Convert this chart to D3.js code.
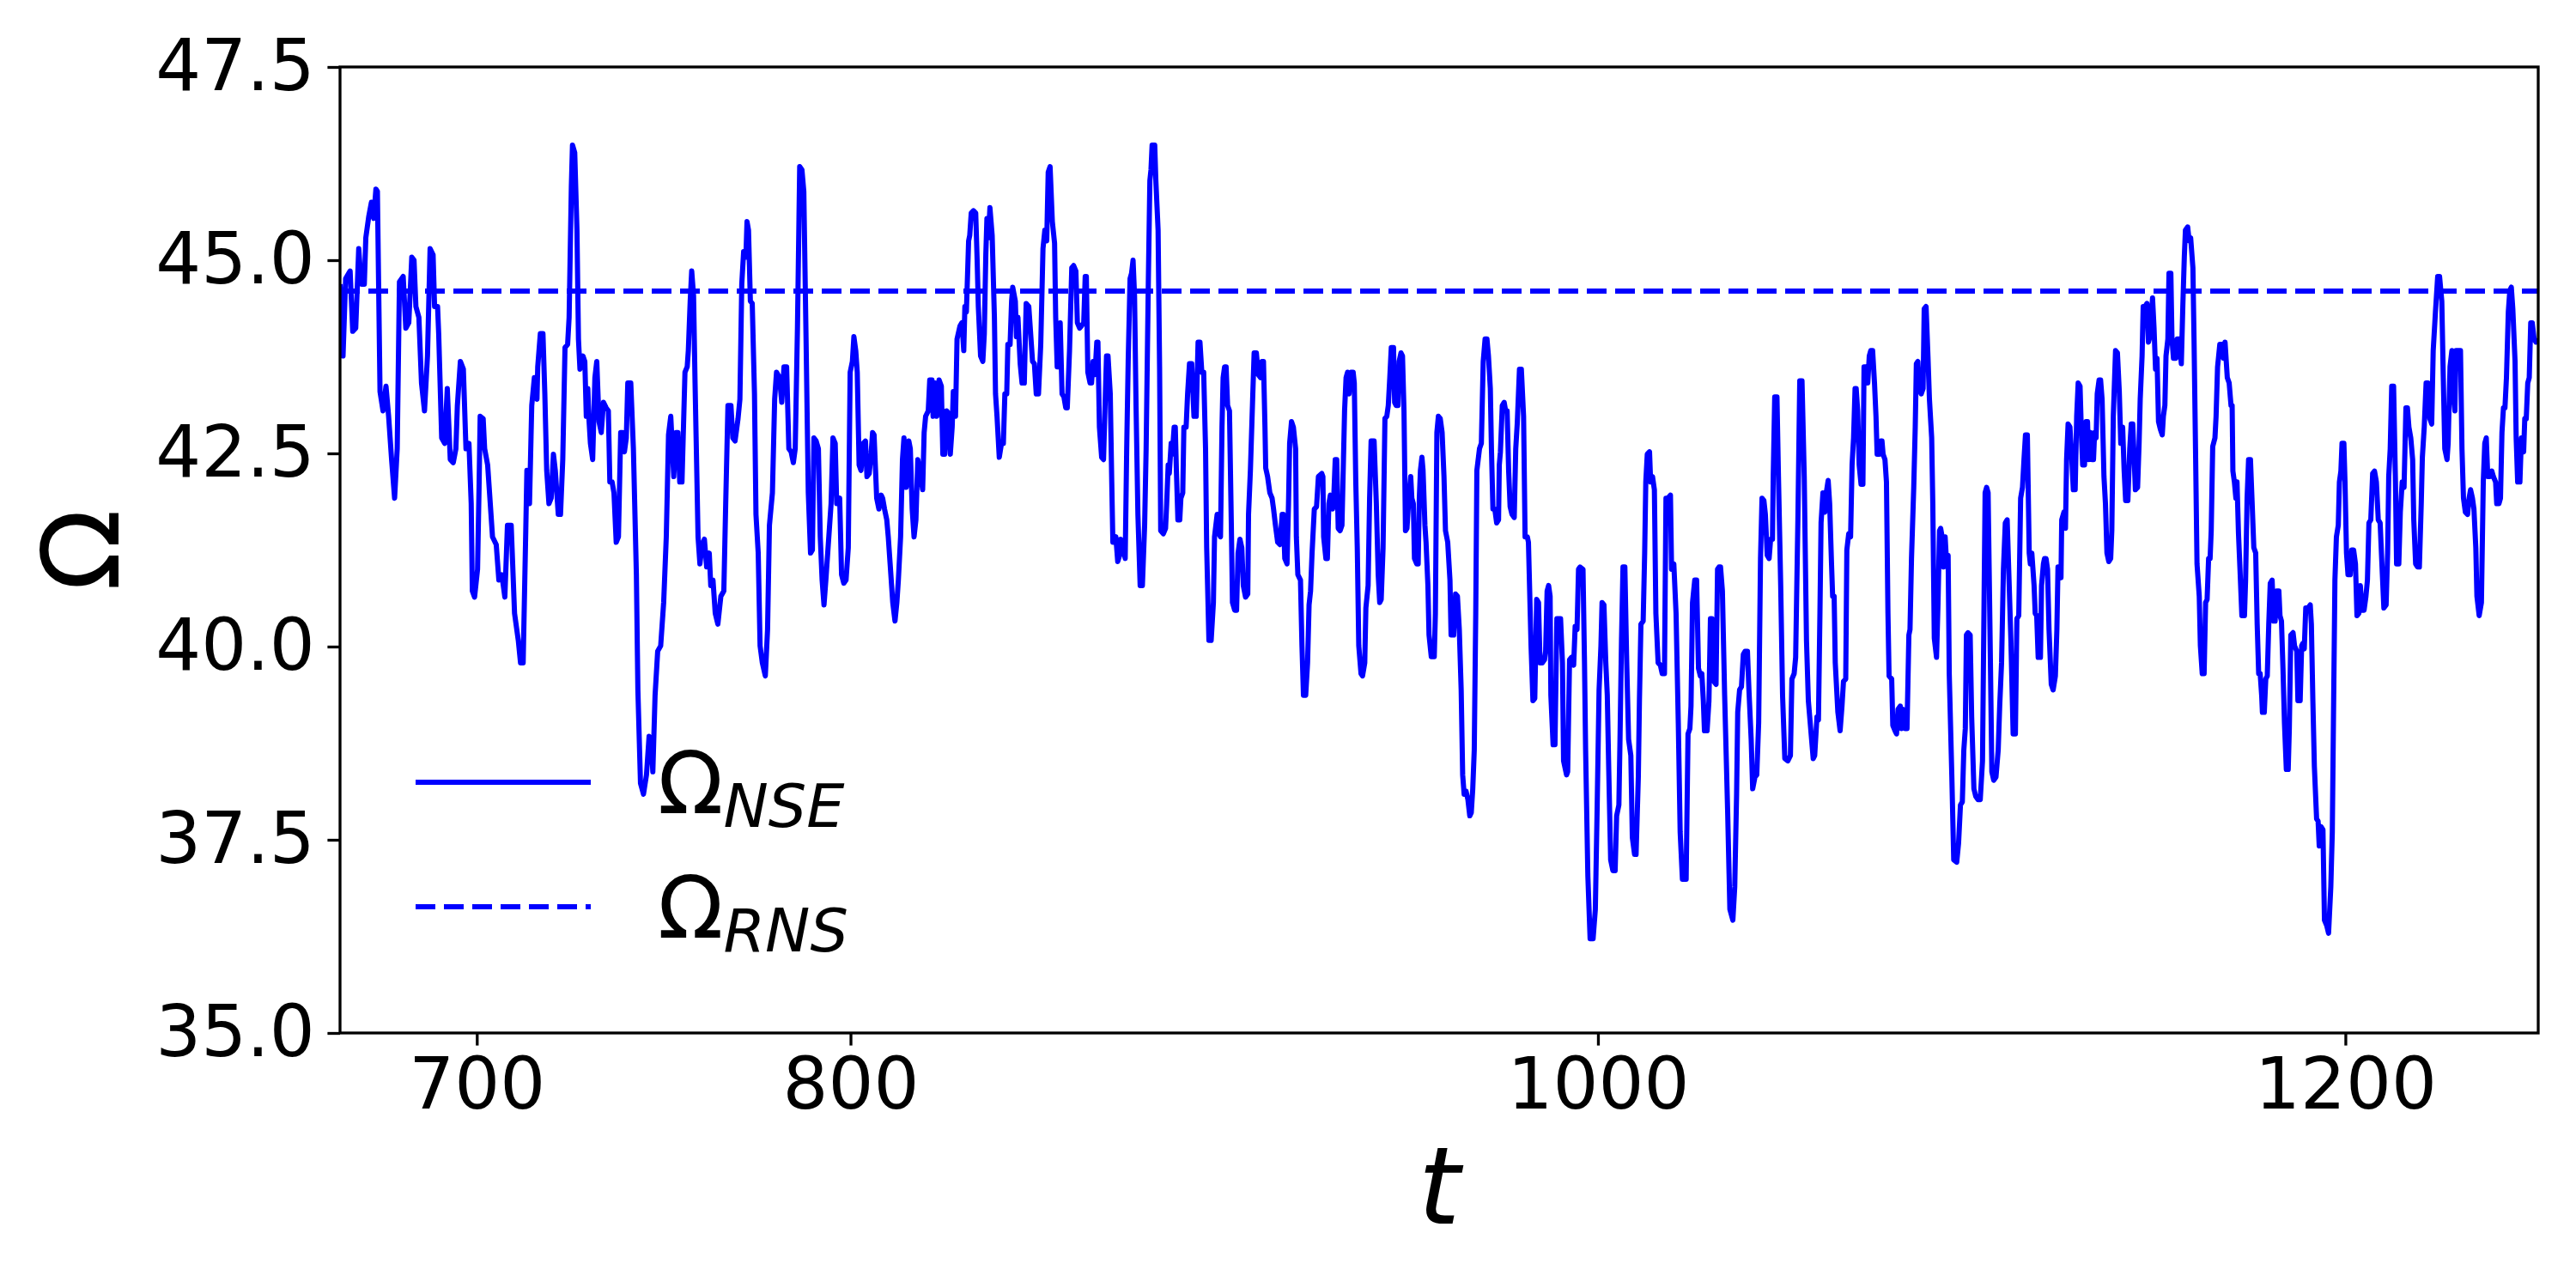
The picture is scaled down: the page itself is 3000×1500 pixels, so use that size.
<!DOCTYPE html>
<html>
<head>
<meta charset="utf-8">
<script src="https://cdn.jsdelivr.net/npm/d3@7"></script>
<style>
  html, body { margin: 0; padding: 0; background: #fff; }
  svg text { font-family: "DejaVu Sans", sans-serif; fill: #000; }
</style>
</head>
<body>
<svg id="chart" width="3000" height="1500"></svg>
<script>
// time axis of the NSE run
var tNSE = [
  663.4, 664.2, 664.9, 666.1, 666.8, 667.6, 668.4, 669.1, 669.9, 670.3,
  671.1, 671.8, 672.4, 673.0, 673.4, 674.1, 674.9, 675.7, 676.4, 677.2,
  678.0, 678.7, 679.3, 680.3, 681.0, 681.8, 682.6, 683.2, 683.7, 684.5,
  685.2, 686.0, 686.8, 687.5, 688.3, 688.7, 689.5, 689.8, 690.6, 691.4,
  692.1, 692.9, 693.7, 694.4, 694.8, 695.6, 696.4, 697.1, 697.9, 698.5,
  698.8, 699.4, 700.2, 700.6, 700.9, 701.7, 702.1, 702.9, 703.6, 704.2,
  705.2, 705.9, 706.7, 707.5, 708.2, 709.2, 710.1, 711.1, 711.7, 712.4,
  713.1, 713.4, 714.1, 714.7, 715.4, 716.1, 716.3, 717.0, 717.7, 718.2,
  718.7, 719.3, 719.9, 720.5, 721.0, 721.8, 722.4, 723.0, 723.6, 724.3,
  724.7, 725.3, 725.6, 726.2, 726.8, 727.2, 727.6, 728.4,
  728.9, 729.3, 729.7, 730.0, 730.4, 731.0, 731.6, 732.1, 732.7, 733.3,
  733.9, 734.6, 735.2, 735.6, 736.2, 736.7, 737.3, 737.9, 738.5, 739.0,
  739.5, 740.0, 740.4, 741.2, 741.9, 742.7, 743.1, 743.8, 744.6, 745.4,
  746.1, 746.7, 747.1, 747.7, 748.4, 749.2, 750.0, 750.7, 751.3, 751.9,
  752.7, 753.3, 753.8, 754.3, 754.9, 755.7, 756.3, 756.6, 757.1, 757.5,
  758.0, 758.4, 759.2, 759.7, 760.3, 760.9, 761.5, 762.2, 762.6, 763.2,
  763.8, 764.5, 765.3, 766.1, 766.6, 767.2, 768.0, 768.5, 769.1, 769.9,
  770.4, 770.9, 771.4, 772.0, 772.3, 772.7, 773.2, 773.7, 774.3, 774.7,
  775.3, 775.8, 776.4, 777.2, 777.8, 778.3, 779.1, 779.7, 780.2, 781.0,
  781.6, 782.2, 782.9, 783.5, 784.1, 784.7, 785.2, 785.8, 786.4, 787.0,
  787.5, 788.1, 788.7, 789.3, 789.8, 790.2, 790.8, 791.4, 791.9, 792.4,
  792.9, 793.4,
  794.8, 795.3, 795.9, 796.3, 797.1, 797.6, 798.2, 798.8, 799.4, 799.9,
  800.5, 800.9, 801.4, 801.8, 802.3, 802.8, 803.4, 804.0, 804.4, 805.0,
  805.5, 805.9, 806.3, 806.7, 807.0, 807.6, 808.2, 808.6, 809.1, 809.7,
  810.1, 810.6, 811.3, 811.9, 812.4, 812.8, 813.4, 813.9, 814.3, 814.9,
  815.2, 815.6, 816.0, 816.5, 817.0, 817.5, 818.0, 818.8, 819.3, 819.7,
  820.1, 820.8, 821.2, 821.8, 822.1, 822.6, 823.1, 823.7, 824.3, 824.7,
  825.2, 825.7, 826.2, 826.7, 827.2, 827.5, 828.1, 828.5, 829.3, 829.8,
  830.3, 830.6, 831.0, 831.6, 831.9, 832.3, 832.9, 833.5, 833.9, 834.2,
  834.8, 835.4, 835.8, 836.2, 836.5, 836.9, 837.3, 837.9, 838.5, 838.8,
  839.2, 839.8, 840.4, 840.9, 841.3, 841.8, 842.1, 842.7, 843.1, 843.4,
  844.1, 844.4, 844.8, 845.4, 845.9, 846.5, 847.0, 847.7, 848.0, 848.7,
  849.2, 849.7, 850.3, 850.9, 851.5, 852.0, 852.5, 852.9, 853.4, 854.0,
  854.6, 854.9, 855.3, 855.7, 856.1, 856.6, 857.1, 857.6, 858.0, 858.6,
  859.2, 859.7,
  860.3, 860.7, 861.3, 861.8, 862.4, 862.8, 863.1, 863.5, 864.1, 864.5,
  864.9, 865.4, 865.9, 866.2, 866.6, 867.2, 867.7, 868.2, 868.5, 868.9,
  869.5, 869.9, 870.2, 871.0, 871.5, 872.0, 872.3, 872.9, 873.5, 873.9,
  874.3, 874.8, 875.2, 875.6, 876.0, 876.4, 876.9, 877.5, 878.1, 878.7,
  879.1, 879.7, 880.1, 880.4, 880.7, 881.4, 881.7, 882.3, 882.7, 883.0,
  883.7, 884.3, 884.6, 885.0, 885.3, 885.8, 886.1, 886.6, 886.9, 887.2,
  887.6, 888.1, 888.4, 888.9, 889.2, 889.8, 890.2, 890.7, 891.3, 891.9,
  892.5, 893.0, 893.5, 894.0, 894.5, 895.0, 895.3, 895.9, 896.5, 897.1,
  897.4, 898.1, 898.6, 899.0, 899.4, 899.7, 900.1, 900.5, 900.9, 901.4,
  901.9, 902.2, 902.8, 903.3, 903.7, 904.2, 904.7, 905.1, 905.7, 906.3,
  906.5, 907.0, 907.6, 908.0, 908.6, 909.1, 909.7, 910.1, 910.5, 910.9,
  911.1, 911.6, 912.2, 912.8, 913.2, 913.7, 914.3, 914.9, 915.5, 915.8,
  916.2, 916.8, 917.2, 917.5, 918.0, 918.5, 919.1, 919.3, 919.7, 920.4,
  920.8, 921.2, 921.8, 922.3, 922.7, 923.1, 923.5, 924.1, 924.7, 925.2,
  926.1, 926.4, 926.6, 927.2, 927.6, 928.0, 928.4, 929.0, 929.3, 929.7,
  930.1, 930.5, 931.0, 931.5, 931.8, 932.2, 932.6, 933.0, 933.4, 933.9,
  934.5, 934.8, 935.2, 935.6, 936.0, 936.6, 937.0, 937.6, 937.9, 938.5,
  938.9, 939.3, 940.1, 940.7, 941.2, 941.6, 942.0, 942.5, 943.0, 943.5,
  943.9, 944.3, 944.7, 945.3, 945.6, 946.0, 946.5, 946.8, 947.3, 947.7,
  948.1, 948.5, 948.9, 949.4, 949.9, 950.2, 950.6, 950.9, 951.5, 951.9,
  952.2, 952.5, 952.9, 953.2, 953.7, 954.0, 954.5, 954.8, 955.4, 956.2,
  956.5, 956.9, 957.3, 957.8, 958.3, 958.8, 959.2, 959.8, 960.4, 960.7,
  961.4, 961.9, 962.4, 962.9, 963.4, 963.8, 964.2, 964.7, 965.2, 965.7,
  966.1, 966.5, 966.9, 967.3, 967.6, 968.3, 968.8, 969.3, 969.8, 970.3,
  970.7, 971.2, 971.5, 971.9, 972.4, 972.9, 973.4, 973.6, 973.9, 974.4,
  974.9, 975.3, 975.7, 976.1, 976.5, 977.0, 977.6, 978.0, 978.4, 979.0,
  979.5, 980.1, 980.5, 981.1, 981.4, 982.1, 982.6, 983.1, 983.6, 984.1,
  984.5, 985.1, 985.7, 986.0, 986.4, 986.8, 987.2, 987.4, 988.0, 988.5,
  989.0, 989.5, 990.0, 990.5, 990.8,
  991.6, 991.9, 992.4, 992.9, 993.5, 993.9, 994.4, 994.8, 995.2, 996.0,
  996.4, 996.7, 997.3, 997.9, 998.7, 999.3, 999.8, 1000.3, 1000.8, 1001.1,
  1001.6, 1002.1, 1002.5, 1002.9, 1003.4, 1004.0, 1004.6, 1005.0, 1005.6, 1005.9,
  1006.3, 1006.7, 1007.2, 1007.7, 1008.2, 1008.8, 1009.2, 1009.8, 1010.2, 1010.8,
  1011.1, 1011.5, 1012.1, 1012.5, 1012.8, 1013.2, 1013.8, 1014.1, 1014.6, 1015.1,
  1015.5, 1016.1, 1016.7, 1017.2, 1017.8, 1018.2, 1018.7, 1019.4, 1019.7, 1020.3,
  1020.9, 1021.5, 1022.0, 1022.6, 1023.6, 1024.1, 1024.6, 1024.9, 1025.3, 1025.9,
  1026.4, 1026.9, 1027.4, 1027.8, 1028.2, 1028.5, 1029.2, 1029.7, 1030.1, 1030.5,
  1031.0, 1031.6, 1032.0, 1032.4, 1032.8, 1033.3, 1033.9, 1034.7, 1035.3, 1036.1,
  1036.6, 1037.1, 1037.4, 1037.9, 1038.4, 1038.9, 1039.4, 1040.0, 1040.4, 1041.0,
  1041.4, 1042.0, 1042.5, 1043.0, 1043.5, 1043.9, 1044.4, 1044.8, 1045.3, 1045.8,
  1046.2, 1046.7, 1046.9, 1047.3, 1047.9, 1048.3, 1048.9, 1049.4, 1050.0, 1050.8,
  1051.5, 1051.9, 1052.5, 1052.9, 1053.5, 1054.0, 1054.6, 1055.2, 1055.8, 1056.3,
  1057.6, 1058.0, 1058.6, 1059.0, 1059.4, 1059.7, 1060.2, 1060.7, 1061.1, 1061.6,
  1062.0, 1062.5, 1062.8, 1063.2, 1063.5, 1064.2, 1064.8, 1065.3, 1065.7, 1066.3,
  1066.6, 1067.1, 1067.6, 1068.0, 1068.4, 1068.8, 1069.1, 1069.5, 1069.9, 1070.4,
  1070.9, 1071.2, 1071.7, 1072.2, 1072.6, 1073.0, 1073.5, 1074.0, 1074.4, 1074.7,
  1075.3, 1075.7, 1076.0, 1076.3, 1076.8, 1077.2, 1077.6, 1077.9, 1078.6, 1078.9,
  1079.5, 1079.9, 1080.3, 1080.9, 1081.2, 1081.6, 1082.2, 1082.7, 1083.2, 1083.5,
  1083.9, 1084.5, 1084.9, 1085.2, 1085.6, 1086.0, 1086.5, 1087.0, 1087.3, 1087.8,
  1088.3, 1088.7, 1089.3, 1089.6, 1090.0, 1090.6, 1091.0, 1091.4, 1091.7, 1092.1,
  1092.5, 1092.9, 1093.3, 1093.7, 1094.0, 1094.7, 1095.2, 1096.0, 1096.5, 1097.0,
  1097.5, 1097.9, 1098.3, 1098.6, 1099.0, 1099.6, 1100.0, 1100.6, 1101.1, 1101.7,
  1102.3, 1102.9, 1103.2, 1103.6, 1104.0, 1104.4, 1104.9, 1105.4, 1105.9, 1106.5,
  1107.1, 1107.5, 1108.0, 1108.5, 1109.0, 1109.5, 1110.0, 1110.5, 1111.1, 1111.7,
  1112.1, 1112.6, 1113.1, 1113.6, 1114.0, 1114.4, 1114.9, 1115.4, 1115.7, 1116.1,
  1116.7, 1117.0, 1117.4, 1117.8, 1118.4, 1118.7, 1119.2, 1119.5, 1119.9, 1120.3,
  1120.7, 1121.3, 1121.8,
  1122.4, 1122.8, 1123.1, 1123.5, 1123.9, 1124.1, 1124.7, 1125.1, 1125.4, 1125.8,
  1126.3, 1126.8, 1127.2, 1127.7, 1128.1, 1128.5, 1129.0, 1129.4, 1129.7, 1130.2,
  1130.6, 1131.0, 1131.3, 1131.8, 1132.2, 1132.6, 1132.9, 1133.3, 1133.6, 1134.1,
  1134.5, 1134.9, 1135.4, 1135.8, 1136.2, 1136.7, 1137.2, 1137.5, 1137.9, 1138.5,
  1139.0, 1139.5, 1139.9, 1140.4, 1140.8, 1141.2, 1141.8, 1142.3, 1142.7, 1143.1,
  1143.5, 1143.8, 1144.4, 1144.8, 1145.1, 1145.6, 1145.9, 1146.4, 1146.9, 1147.3,
  1147.7, 1148.1, 1148.4, 1148.8, 1149.2, 1149.6, 1150.0, 1150.5, 1151.0, 1151.3,
  1151.7, 1152.0, 1152.5, 1152.8, 1153.3, 1153.6, 1154.0, 1154.6, 1155.0, 1155.5,
  1156.1, 1156.5, 1156.9, 1157.2, 1157.8, 1158.2, 1158.6, 1159.2, 1159.5, 1159.9,
  1160.3, 1160.9, 1161.2, 1161.7, 1162.2, 1162.6, 1163.0, 1163.4, 1163.8, 1164.1,
  1164.5, 1165.1, 1165.4, 1165.8, 1166.4, 1167.0, 1167.4, 1167.8, 1168.4, 1168.9,
  1169.4, 1169.7, 1169.9, 1170.3, 1170.7, 1171.0, 1171.4, 1171.8, 1172.3, 1173.0,
  1173.3, 1173.7, 1174.1, 1174.6, 1175.0, 1175.5, 1176.0, 1176.4, 1176.8, 1177.2,
  1177.6, 1177.8, 1178.3, 1178.7, 1179.1, 1179.5, 1179.9, 1180.4, 1180.8, 1181.2,
  1181.6, 1182.2, 1182.5, 1182.9, 1183.3, 1183.7, 1184.2, 1184.7, 1185.0, 1185.4,
  1186.0, 1186.4, 1187.0, 1187.3,
  1187.9, 1188.3, 1188.6, 1189.0, 1189.4, 1190.0, 1190.6, 1190.9, 1191.3, 1191.7,
  1192.3, 1192.7, 1193.0, 1193.5, 1194.0, 1194.4, 1195.0, 1195.5, 1196.1, 1196.5,
  1196.8, 1197.2, 1197.6, 1198.1, 1198.4, 1198.8, 1199.1, 1199.6, 1199.9, 1200.3,
  1200.7, 1201.3, 1201.7, 1202.2, 1202.7, 1203.1, 1203.6, 1204.0, 1204.5, 1205.0,
  1205.5, 1205.9, 1206.3, 1206.8, 1207.3, 1207.8, 1208.3, 1208.8, 1209.3, 1209.9,
  1210.3, 1210.9, 1211.3, 1211.6, 1212.0, 1212.4, 1212.9, 1213.4, 1213.7, 1214.3,
  1214.7, 1215.2, 1215.7, 1216.2, 1216.6, 1217.0, 1217.5, 1218.0, 1218.3, 1218.8,
  1219.3, 1219.8, 1220.3, 1220.6, 1221.1, 1221.6, 1222.1, 1222.6, 1223.1, 1223.5,
  1224.1, 1224.7, 1225.2, 1225.8, 1226.2, 1226.6, 1227.2, 1227.5, 1228.0, 1228.5,
  1228.9, 1229.3, 1229.6, 1230.3, 1230.8, 1231.2, 1231.6, 1232.1, 1232.7, 1233.1,
  1233.5, 1234.0, 1234.4, 1234.9, 1235.2, 1235.8, 1236.4, 1236.9, 1237.3, 1237.7,
  1238.1, 1238.7, 1239.2, 1239.6, 1240.2, 1240.5, 1241.1, 1241.5, 1241.9, 1242.3,
  1242.7, 1243.1, 1243.6, 1244.0, 1244.4, 1244.8, 1245.4, 1245.7, 1246.1, 1246.7,
  1247.1, 1247.7, 1248.0, 1248.4, 1248.8, 1249.2, 1249.6, 1250.0, 1250.5, 1251.0,
  1251.6
];

// Omega from the NSE run, one value per time above
var omegaNSE = [
  44.69, 43.76, 44.76, 44.86, 44.08, 44.12, 45.15, 44.69, 44.69, 45.29,
  45.57, 45.75, 45.54, 45.92, 45.89, 43.30, 43.05, 43.37, 42.98, 42.42,
  41.92, 42.56, 44.72, 44.79, 44.12, 44.19, 45.04, 45.00, 44.40, 44.26,
  43.41, 43.05, 43.76, 45.15, 45.07, 44.40, 44.40, 44.05, 42.70, 42.63,
  43.34, 42.42, 42.38, 42.56, 43.12, 43.69, 43.59, 42.56, 42.63, 41.85,
  40.72, 40.64, 41.00, 42.06, 42.98, 42.95, 42.56, 42.35, 41.85, 41.42,
  41.32, 40.86, 40.93, 40.64, 41.57, 41.57, 40.43, 40.08, 39.79, 39.79,
  41.50, 42.28, 41.85, 43.12, 43.48, 43.20, 43.62, 44.05, 44.05, 43.27,
  42.28, 41.85, 41.92, 42.49, 42.28, 41.71, 41.71, 42.42, 43.87, 43.91,
  44.26, 45.96, 46.49, 46.39, 45.39, 43.98, 43.59, 43.76,
  43.69, 42.98, 43.34, 42.95, 42.63, 42.42, 43.48, 43.69, 42.91, 42.77,
  43.16, 43.09, 43.05, 42.13, 42.13, 41.99, 41.35, 41.42, 42.77, 42.77,
  42.52, 42.70, 43.41, 43.41, 42.56, 40.93, 39.44, 38.23, 38.09, 38.34,
  38.84, 38.73, 38.38, 39.37, 39.94, 40.01, 40.57, 41.42, 42.74, 42.98,
  42.20, 42.77, 42.77, 42.13, 42.13, 43.55, 43.62, 43.83, 44.47, 44.86,
  44.54, 43.41, 41.42, 41.07, 41.32, 41.39, 41.03, 41.21, 40.79, 40.86,
  40.43, 40.29, 40.65, 40.72, 41.85, 43.12, 43.12, 42.70, 42.66, 42.95,
  43.20, 44.69, 45.11, 45.04, 45.50, 45.39, 44.47, 44.44, 43.27, 41.71,
  41.21, 40.01, 39.79, 39.62, 40.22, 41.57, 41.99, 43.20, 43.55, 43.48,
  43.16, 43.62, 43.62, 42.56, 42.52, 42.38, 42.56, 44.12, 46.21, 46.17,
  45.89, 43.98, 41.99, 41.21, 41.25, 42.70, 42.66, 42.56, 41.42, 40.86,
  40.54, 40.86,
  41.85, 42.70, 42.63, 41.85, 41.92, 40.93, 40.82, 40.86, 41.28, 43.55,
  43.69, 44.01, 43.83, 43.55, 42.35, 42.28, 42.63, 42.66, 42.20, 42.24,
  42.49, 42.77, 42.74, 42.28, 41.92, 41.78, 41.96, 41.92, 41.78, 41.64,
  41.42, 41.07, 40.57, 40.33, 40.57, 40.86, 41.42, 42.42, 42.70, 42.06,
  42.13, 42.66, 42.56, 41.78, 41.42, 41.64, 42.42, 42.20, 42.03, 42.77,
  42.98, 43.05, 43.45, 43.45, 42.98, 43.41, 42.98, 43.45, 43.37, 42.49,
  42.49, 43.05, 43.02, 42.49, 42.84, 43.30, 42.98, 43.98, 44.15, 44.19,
  43.83, 44.40, 44.33, 45.25, 45.32, 45.61, 45.64, 45.61, 44.97, 44.40,
  43.76, 43.69, 44.05, 45.07, 45.54, 45.29, 45.68, 45.32, 44.26, 43.27,
  42.98, 42.45, 42.63, 42.63, 43.27, 43.27, 43.91, 43.91, 44.47, 44.65,
  44.47, 44.01, 44.26, 43.66, 43.41, 43.41, 44.44, 44.40, 44.19, 43.69,
  43.66, 43.27, 43.27, 43.91, 45.15, 45.39, 45.25, 46.14, 46.21, 45.50,
  45.22, 44.26, 43.62, 43.62, 44.19, 43.27, 43.23, 43.09, 43.09, 43.83,
  44.90, 44.93,
  44.86, 44.19, 44.12, 44.15, 44.19, 44.79, 44.79, 43.55, 43.41, 43.41,
  43.69, 43.52, 43.94, 43.94, 42.84, 42.45, 42.42, 43.27, 43.76, 43.76,
  43.27, 42.13, 41.35, 41.42, 41.10, 41.18, 41.39, 41.28, 41.14, 42.56,
  43.69, 44.76, 44.83, 45.00, 44.54, 43.12, 41.71, 40.79, 40.79, 41.57,
  42.56, 44.76, 46.03, 46.17, 46.49, 46.49, 46.03, 45.39, 43.62, 41.50,
  41.46, 41.53, 41.85, 42.35, 42.24, 42.63, 42.49, 42.84, 42.84, 42.28,
  41.64, 41.64, 41.92, 41.99, 42.84, 42.84, 43.27, 43.66, 43.66, 42.98,
  42.98, 43.94, 43.94, 43.55, 43.55, 42.56, 41.28, 40.08, 40.08, 40.57,
  41.42, 41.71, 41.46, 41.42, 42.84, 43.48, 43.62, 43.62, 43.12, 43.05,
  41.57, 40.57, 40.47, 40.47, 41.21, 41.39, 41.28, 40.79, 40.64, 40.68,
  41.71, 42.28, 43.20, 43.80, 43.80, 43.52, 43.48, 43.69, 43.69, 42.84,
  42.31, 42.20, 41.99, 41.92, 41.78, 41.57, 41.35, 41.32, 41.71, 41.71,
  41.14, 41.07, 41.85, 42.63, 42.91, 42.84, 42.56, 41.42, 40.93, 40.86,
  40.01, 39.37, 39.37, 39.79, 40.54, 40.72, 41.21, 41.78, 41.81, 42.20,
  42.24, 42.20, 41.42, 41.14, 41.14, 41.85, 41.96, 41.78, 41.92, 42.42,
  42.42, 41.53, 41.50, 41.57, 42.20, 43.05, 43.48, 43.55, 43.27, 43.55,
  43.55, 43.41, 42.13, 41.28, 40.01, 39.65, 39.62, 39.79, 40.50, 40.79,
  41.92, 42.66, 42.66, 41.85, 40.93, 40.57, 40.61, 41.28, 42.95, 42.98,
  43.12, 43.48, 43.87, 43.87, 43.16, 43.12, 43.12, 43.69, 43.80, 43.76,
  43.05, 41.50, 41.53, 41.92, 42.20, 41.92, 41.85, 41.14, 41.07, 41.07,
  41.92, 42.28, 42.45, 42.28, 41.57, 41.35, 40.79, 40.15, 39.87, 39.87,
  40.43, 42.77, 42.98, 42.95, 42.77, 42.20, 41.50, 41.35, 40.86, 40.15,
  40.15, 40.68, 40.65, 40.22, 39.44, 38.34, 38.09, 38.13, 38.02, 37.81,
  37.85, 38.16, 38.66, 40.43, 42.28, 42.56, 42.63, 43.69, 43.98, 43.98,
  43.76, 43.34, 42.56, 41.78, 41.78, 41.60, 41.64, 42.35, 42.52, 43.12,
  43.16, 43.05, 43.05, 42.28, 41.81, 41.71, 41.67, 42.56, 42.88, 43.59,
  43.59, 42.98, 41.42, 41.42, 41.35, 40.01, 39.30, 39.33, 40.61, 40.57,
  39.79, 39.79, 39.83, 39.94, 40.72, 40.79, 40.65, 39.37, 38.73, 38.73,
  40.36, 40.36, 40.36, 39.79, 38.52,
  38.34, 38.38, 39.83, 39.86, 39.76, 40.26, 40.22, 41.00, 41.03, 41.00,
  39.79, 38.66, 37.03, 36.22, 36.22, 36.60, 37.95, 39.44, 40.01, 40.57,
  40.54, 39.79, 39.37, 38.38, 37.24, 37.10, 37.10, 37.81, 37.95, 38.80,
  40.08, 41.03, 41.03, 39.79, 38.80, 38.59, 37.53, 37.31, 37.31, 38.31,
  39.30, 40.29, 40.33, 41.21, 42.13, 42.49, 42.52, 42.13, 42.20, 42.03,
  40.43, 39.79, 39.76, 39.65, 39.65, 41.92, 41.92, 41.96, 41.00, 41.07,
  40.43, 39.01, 37.60, 36.99, 36.99, 38.87, 38.94, 39.23, 40.57, 40.86,
  40.86, 39.72, 39.62, 39.65, 39.30, 38.91, 38.91, 39.30, 40.36, 40.36,
  39.55, 39.51, 41.00, 41.03, 41.03, 40.72, 39.37, 37.88, 36.60, 36.46,
  36.89, 38.09, 39.15, 39.44, 39.48, 39.90, 39.94, 39.94, 39.44, 38.80,
  38.16, 38.31, 38.34, 39.01, 41.14, 41.92, 41.89, 41.71, 41.18, 41.14,
  41.39, 41.39, 42.20, 43.23, 43.23, 42.20, 40.79, 39.37, 38.55, 38.52,
  38.59, 39.58, 39.65, 39.86, 41.64, 43.44, 43.44, 42.20, 40.08, 39.30,
  38.55, 38.59, 39.09, 39.05, 40.43, 41.60, 41.99, 41.74, 41.99, 42.15,
  41.85, 41.07, 40.65, 40.65, 39.79, 39.15, 38.91, 39.23, 39.55, 39.58,
  41.25, 41.46, 41.42, 42.35, 42.70, 43.34, 43.34, 43.05, 42.35, 42.10,
  42.10, 43.62, 43.62, 43.41, 43.76, 43.83, 43.83, 43.41, 42.98, 42.49,
  42.49, 42.66, 42.66, 42.49, 42.42, 42.13, 40.43, 39.62, 39.58, 38.98,
  38.91, 38.87, 39.19, 39.23, 38.94, 39.19, 38.94, 38.94, 40.15, 40.22,
  41.14, 42.06, 42.84, 43.66, 43.69, 43.34, 43.27, 43.34, 44.37, 44.40,
  43.76, 43.20, 42.70, 41.85, 40.11, 39.86, 40.57, 41.50, 41.53, 41.42,
  41.03, 41.42, 41.07, 41.18, 39.65, 38.31, 37.24, 37.21, 37.46, 37.95,
  37.99, 38.66, 38.94, 40.15, 40.18, 40.15, 39.09, 38.16, 38.06, 38.02,
  38.02, 38.52, 40.01, 41.99, 42.06, 41.99, 40.22, 38.38, 38.27, 38.31,
  38.66, 39.23, 39.79, 41.00, 41.60, 41.64, 40.86, 40.08, 38.87, 38.87,
  40.36, 40.40, 41.92, 42.06, 42.42, 42.74, 42.74, 41.21, 41.07, 41.21,
  40.79, 40.43, 40.40, 39.86, 39.86, 40.79, 41.07, 41.14, 41.14, 41.00,
  40.22, 39.51, 39.44,
  39.62, 40.22, 41.03, 41.03, 40.89, 41.64, 41.74, 41.53, 42.42, 42.88,
  42.84, 42.42, 42.03, 42.03, 42.98, 43.41, 43.37, 42.70, 42.35, 42.35,
  42.91, 42.91, 42.42, 42.77, 42.42, 42.42, 42.77, 42.70, 43.27, 43.45,
  43.45, 43.20, 42.20, 41.85, 41.21, 41.10, 41.14, 41.50, 42.98, 43.83,
  43.80, 43.30, 42.63, 42.84, 42.28, 41.89, 41.89, 42.56, 42.88, 42.88,
  42.42, 42.03, 42.06, 42.63, 43.20, 43.76, 44.40, 44.40, 44.44, 43.94,
  44.01, 44.29, 44.51, 44.12, 43.59, 43.73, 42.91, 42.81, 42.74, 42.98,
  43.12, 43.76, 43.98, 44.83, 44.83, 43.98, 43.73, 43.73, 43.98, 43.98,
  43.66, 44.40, 45.04, 45.39, 45.43, 45.25, 45.29, 44.90, 43.98, 42.56,
  41.07, 40.65, 40.01, 39.65, 39.65, 40.57, 40.61, 41.14, 41.14, 41.50,
  42.59, 42.70, 42.98, 43.62, 43.91, 43.91, 43.73, 43.94, 43.48, 43.41,
  43.12, 43.12, 42.27, 42.13, 41.92, 42.13, 41.46, 41.00, 40.40, 40.40,
  40.86, 41.92, 42.42, 42.42, 41.92, 41.28, 41.21, 40.29, 39.65, 39.65,
  39.37, 39.15, 39.15, 39.58, 39.62, 40.29, 40.82, 40.86, 40.33, 40.33,
  40.72, 40.72, 40.40, 40.33, 39.72, 39.01, 38.41, 38.41, 38.94, 40.15,
  40.18, 40.01, 39.94, 39.30,
  39.30, 40.01, 40.04, 39.97, 40.50, 40.50, 40.54, 40.29, 39.30, 38.45,
  37.77, 37.74, 37.42, 37.67, 37.63, 36.46, 36.39, 36.29, 36.89, 37.60,
  39.01, 40.86, 41.42, 41.57, 42.13, 42.27, 42.63, 42.63, 42.13, 41.21,
  40.93, 40.93, 41.25, 41.25, 41.07, 40.40, 40.43, 40.79, 40.47, 40.47,
  40.65, 40.86, 41.60, 41.64, 42.24, 42.27, 42.13, 41.64, 41.60, 40.93,
  40.50, 40.54, 41.21, 42.20, 42.56, 43.37, 43.37, 42.13, 41.07, 41.07,
  41.74, 42.13, 42.06, 43.09, 43.09, 42.84, 42.70, 42.42, 41.64, 41.07,
  41.03, 41.03, 41.85, 42.45, 42.84, 43.41, 43.41, 42.95, 42.88, 43.83,
  44.33, 44.79, 44.79, 44.47, 43.48, 42.56, 42.42, 42.63, 43.62, 43.83,
  43.27, 43.05, 43.83, 43.83, 43.83, 42.56, 41.92, 41.74, 41.71, 41.92,
  42.03, 41.92, 41.78, 41.28, 40.65, 40.40, 40.57, 42.13, 42.63, 42.70,
  42.20, 42.20, 42.27, 42.20, 42.13, 41.85, 41.85, 41.92, 42.77, 43.09,
  43.09, 43.48, 44.33, 44.61, 44.65, 44.37, 43.69, 42.70, 42.13, 42.13,
  42.70, 42.52, 42.95, 42.95, 43.41, 43.48, 44.19, 44.19, 43.98, 43.94,
  43.98
];

// Omega from RNS (constant reference level)
var omegaRNS = 44.6;

var xTicks = [700, 800, 1000, 1200];
var yTicks = [35.0, 37.5, 40.0, 42.5, 45.0, 47.5];
var legendLabels = [
  {sym: 'Ω', sub: 'NSE', dash: null},
  {sym: 'Ω', sub: 'RNS', dash: '23,10'}
];

var W = 3000, H = 1500;
var plot = {left: 396, right: 2956, top: 78, bottom: 1203};
var lineColor = '#0000ff';
var tickLen = 14.6, tickPad = 14.6;

var svg = d3.select('#chart');
svg.append('rect').attr('width', W).attr('height', H).attr('fill', '#fff');

var x = d3.scaleLinear()
    .domain(d3.extent(tNSE))
    .range([plot.left, plot.right]);

var y = d3.scaleLinear()
    .domain([yTicks[0], yTicks[yTicks.length - 1]])
    .range([plot.bottom, plot.top]);

svg.append('clipPath').attr('id', 'plot-clip')
  .append('rect')
    .attr('x', plot.left).attr('y', plot.top)
    .attr('width', plot.right - plot.left)
    .attr('height', plot.bottom - plot.top);

var points = tNSE.map(function(t, i) { return [t, omegaNSE[i]]; });

var line = d3.line()
    .x(function(d) { return x(d[0]); })
    .y(function(d) { return y(d[1]); });

var plotArea = svg.append('g').attr('clip-path', 'url(#plot-clip)');

plotArea.append('path')
    .datum(points)
    .attr('d', line)
    .attr('fill', 'none')
    .attr('stroke', lineColor)
    .attr('stroke-width', 6)
    .attr('stroke-linejoin', 'round');

plotArea.append('line')
    .attr('x1', plot.left).attr('x2', plot.right)
    .attr('y1', y(omegaRNS)).attr('y2', y(omegaRNS))
    .attr('stroke', lineColor)
    .attr('stroke-width', 6)
    .attr('stroke-dasharray', '23,10');

// axes
var xAxis = d3.axisBottom(x)
    .tickValues(xTicks)
    .tickFormat(d3.format('d'))
    .tickSize(tickLen)
    .tickSizeOuter(0)
    .tickPadding(tickPad);

var yAxis = d3.axisLeft(y)
    .tickValues(yTicks)
    .tickFormat(d3.format('.1f'))
    .tickSize(tickLen)
    .tickSizeOuter(0)
    .tickPadding(tickPad);

var gx = svg.append('g')
    .attr('transform', 'translate(0,' + plot.bottom + ')')
    .call(xAxis);
var gy = svg.append('g')
    .attr('transform', 'translate(' + plot.left + ',0)')
    .call(yAxis);

[gx, gy].forEach(function(g) {
    g.select('.domain').remove();
    g.selectAll('.tick line').attr('stroke', '#000').attr('stroke-width', 3.3);
    g.selectAll('.tick text')
        .attr('font-family', 'DejaVu Sans')
        .attr('font-size', 83.3)
        .attr('fill', '#000');
});

// frame
svg.append('rect')
    .attr('x', plot.left).attr('y', plot.top)
    .attr('width', plot.right - plot.left)
    .attr('height', plot.bottom - plot.top)
    .attr('fill', 'none')
    .attr('stroke', '#000')
    .attr('stroke-width', 3.3);

// axis labels
svg.append('text')
    .attr('x', (plot.left + plot.right) / 2)
    .attr('y', 1425)
    .attr('text-anchor', 'middle')
    .attr('font-size', 125)
    .attr('font-style', 'italic')
    .text('t');

svg.append('text')
    .attr('transform', 'translate(138,' + ((plot.top + plot.bottom) / 2) + ') rotate(-90)')
    .attr('text-anchor', 'middle')
    .attr('font-size', 125)
    .text('Ω');

// legend
var legend = svg.append('g');
var legendRows = [911, 1056];
legendLabels.forEach(function(item, i) {
    var ly = legendRows[i];
    var ln = legend.append('line')
        .attr('x1', 484).attr('x2', 688)
        .attr('y1', ly).attr('y2', ly)
        .attr('stroke', lineColor)
        .attr('stroke-width', 6);
    if (item.dash) ln.attr('stroke-dasharray', item.dash);

    var txt = legend.append('text')
        .attr('x', 766)
        .attr('y', ly + 36)
        .attr('font-size', 100);
    txt.append('tspan').text(item.sym);
    txt.append('tspan')
        .attr('font-size', 70)
        .attr('font-style', 'italic')
        .attr('dy', 16)
        .text(item.sub);
});
</script>
</body>
</html>
